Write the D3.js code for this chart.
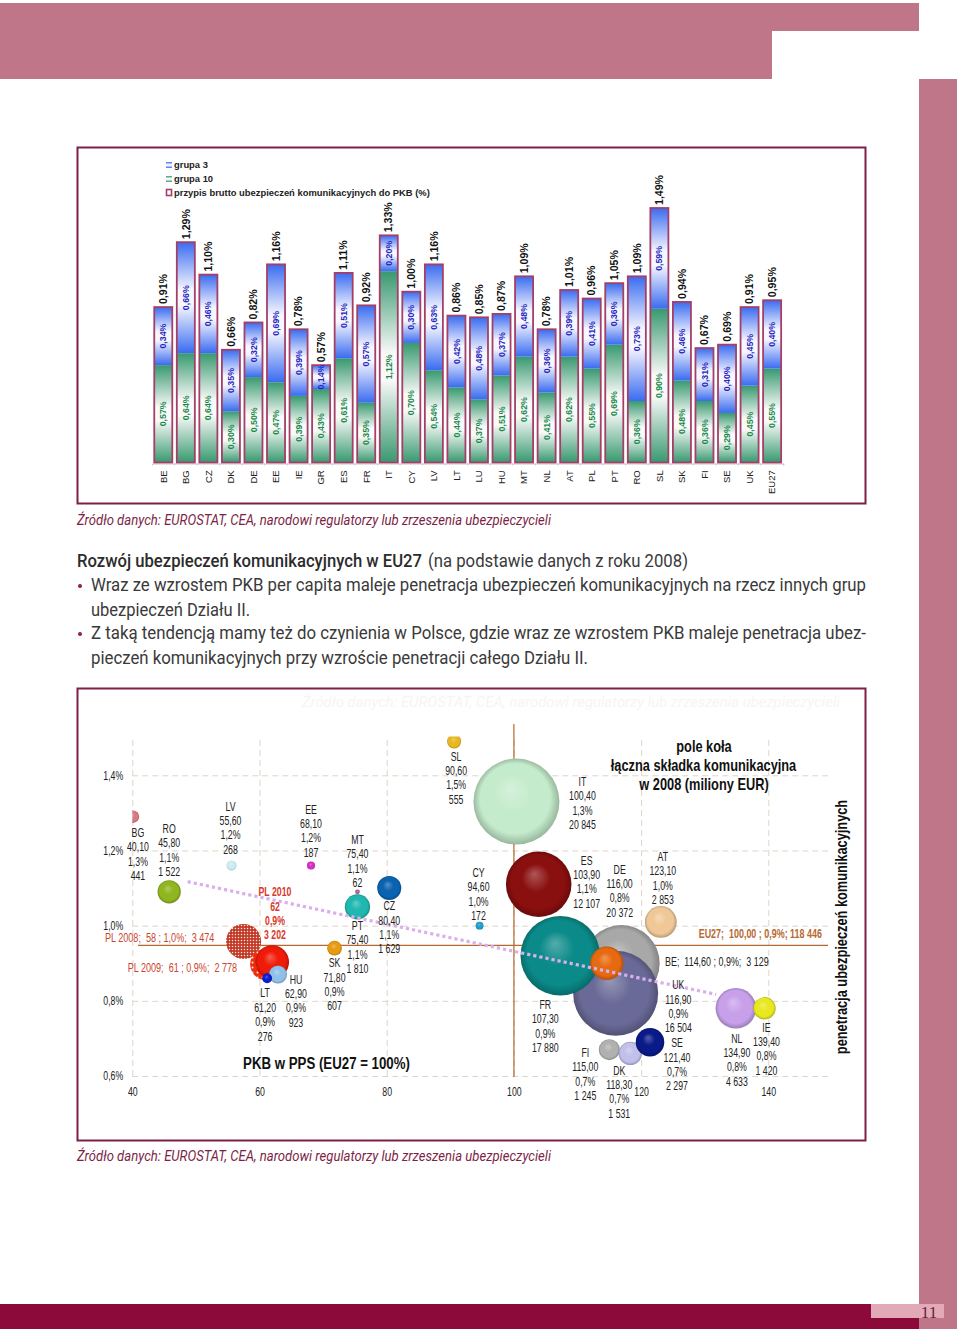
<!DOCTYPE html>
<html lang="pl">
<head>
<meta charset="utf-8">
<title>Ubezpieczenia komunikacyjne</title>
<script src="https://cdn.jsdelivr.net/npm/d3@7/dist/d3.min.js"></script>
<style>
html,body{margin:0;padding:0;background:#fff}
svg{display:block}
text{font-family:"Liberation Sans",Arial,sans-serif;white-space:pre}
.body{font-family:Roboto,sans-serif;fill:#3a3a3a}
</style>
</head>
<body>
<svg id="page" width="960" height="1330"></svg>
<script>
// ---- bar chart data
const barCountries = ["BE","BG","CZ","DK","DE","EE","IE","GR","ES","FR","IT","CY","LV","LT","LU","HU","MT","NL","AT","PL","PT","RO","SL","SK","FI","SE","UK","EU27"];
const group10 = [0.57,0.64,0.64,0.30,0.50,0.47,0.39,0.43,0.61,0.35,1.12,0.70,0.54,0.44,0.37,0.51,0.62,0.41,0.62,0.55,0.69,0.36,0.90,0.48,0.36,0.29,0.45,0.55];
const group3 = [0.34,0.66,0.46,0.35,0.32,0.69,0.39,0.14,0.51,0.57,0.20,0.30,0.63,0.42,0.48,0.37,0.48,0.36,0.39,0.41,0.36,0.73,0.59,0.46,0.31,0.40,0.45,0.40];
const totals = [0.91,1.29,1.10,0.66,0.82,1.16,0.78,0.57,1.11,0.92,1.33,1.00,1.16,0.86,0.85,0.87,1.09,0.78,1.01,0.96,1.05,1.09,1.49,0.94,0.67,0.69,0.91,0.95];
const legendLabels = ["grupa 3","grupa 10","przypis brutto ubezpieczeń komunikacyjnych do PKB (%)"];

// ---- bubble chart data (drawing order: biggest behind)
const bubbleCodes = ["BG","RO","LV","EE","PT","MT","CZ","SL","CY","IT","ES","UK","DE","FR","BE","AT","FI","DK","SE","NL","IE","SK","HU","LT"];
const bubbleGdp = [40.10,45.80,55.60,68.10,75.40,75.40,80.40,90.60,94.60,100.40,103.90,116.90,116.00,107.30,114.60,123.10,115.00,118.30,121.40,134.90,139.40,71.80,62.90,61.20];
const bubblePen = [1.29,1.09,1.16,1.16,1.05,1.09,1.10,1.49,1.00,1.33,1.11,0.90,0.82,0.92,0.90,1.01,0.67,0.66,0.69,0.78,0.78,0.94,0.87,0.86];
const bubblePremium = [441,1522,268,187,1810,62,1629,555,172,20845,12107,16504,20372,17880,3129,2853,1245,1531,2297,4633,1420,607,923,276];
const polandYears = ["PL 2008","PL 2009","PL 2010"];
const polandGdp = [57.5,61,62];
const polandPen = [0.958,0.897,0.903];
const polandPremium = [3474,2778,3202];
const trendGdp = [48.7,131.8];
const trendPen = [1.117,0.817];
const euGdp = 100;
const xTicks = [40,60,80,100,120,140];
const yTicks = [0.6,0.8,1.0,1.2,1.4];

// ---- styling lookups
const bubbleColors = {BG:"#d87880",RO:"#8fb51f",LV:"#c8eef0",EE:"#d82fc8",PT:"#1fb8b0",MT:"#b06090",CZ:"#0a63b0",SL:"#e8b820",CY:"#20a0d0",IT:"#c4ebcb",ES:"#8a0f0f",UK:"#a8a8a8",DE:"#6a6a98",FR:"#0a8a88",BE:"#e86a10",AT:"#f0c898",FI:"#b0b0b0",DK:"#c0c0ea",SE:"#0a1a88",NL:"#c8a0ea",IE:"#e8e820",SK:"#e89a10",HU:"#90c0e8",LT:"#0a20d0"};
const labelOffsets = {BG:[5,16],RO:[0,-63],LV:[-1,-59],EE:[0,-56],MT:[0,-52],SL:[2,15],CY:[-1,-53],IT:[66,-20],ES:[48,-24],DE:[4,-124],AT:[2,-65],CZ:[0,18],PT:[0,19],SK:[0,15],HU:[18,5],LT:[-2,15],FR:[-15,49],FI:[-24,3],DK:[-11,17],SE:[27,1],NL:[1,30],IE:[2,19],UK:[57,22]};

const plLocale = d3.formatLocale({decimal:",",thousands:" ",grouping:[3],currency:["",""]});
const fGdp = plLocale.format(",.2f"), fPrem = plLocale.format(",d"), fPen1 = plLocale.format(".1f"), fPen2 = plLocale.format(".2f");

const svg = d3.select("#page");
const defs = svg.append("defs");
const crimson = "#7d1f47", band = "#be7688";

// ---- page furniture
svg.append("rect").attr("x",0).attr("y",3).attr("width",919).attr("height",28).attr("fill",band);
svg.append("rect").attr("x",0).attr("y",31).attr("width",772).attr("height",48).attr("fill",band);
svg.append("rect").attr("x",919).attr("y",79).attr("width",38).attr("height",1250).attr("fill",band);
svg.append("rect").attr("x",0).attr("y",1304).attr("width",919).attr("height",25).attr("fill","#8b0a3a");
svg.append("rect").attr("x",871).attr("y",1304).attr("width",73).attr("height",14).attr("fill","#e2aab6");
svg.append("text").attr("x",929).attr("y",1318).attr("text-anchor","middle").attr("font-size",17).attr("fill","#6e1a3e").style("font-family","'Liberation Serif',serif").text("11");

svg.append("rect").attr("x",77.5).attr("y",147.5).attr("width",788).attr("height",356).attr("fill","#fff").attr("stroke",crimson).attr("stroke-width",2);
svg.append("rect").attr("x",77.5).attr("y",688.5).attr("width",788).attr("height",452).attr("fill","#fff").attr("stroke",crimson).attr("stroke-width",2);

function fitted(x,y,str,len,size,opts={}){
  const t = svg.append("text").attr("x",x).attr("y",y).attr("class","body").attr("font-size",size)
    .attr("textLength",len).attr("lengthAdjust","spacingAndGlyphs").text(str);
  if(opts.fill) t.style("fill",opts.fill);
  if(opts.weight) t.attr("font-weight",opts.weight);
  if(opts.italic) t.attr("font-style","italic");
  return t;
}
const source = "Źródło danych: EUROSTAT, CEA, narodowi regulatorzy lub zrzeszenia ubezpieczycieli";
fitted(77,525,source,474,14,{fill:"#7d1f47",italic:true});
fitted(77,1161,source,474,14,{fill:"#7d1f47",italic:true});
fitted(302,707,source,538,15,{fill:"#f7f4f5",italic:true});
fitted(77,567,"Rozwój ubezpieczeń komunikacyjnych w EU27",345,18,{weight:500,fill:"#2c2c2c"});
fitted(428,567,"(na podstawie danych z roku 2008)",260,18);
fitted(91,591,"Wraz ze wzrostem PKB per capita maleje penetracja ubezpieczeń komunikacyjnych na rzecz innych grup",775,18);
fitted(91,615.5,"ubezpieczeń Działu II.",159,18);
fitted(91,639,"Z taką tendencją mamy też do czynienia w Polsce, gdzie wraz ze wzrostem PKB maleje penetracja ubez-",775,18);
fitted(91,663.5,"pieczeń komunikacyjnych przy wzroście penetracji całego Działu II.",497,18);
svg.selectAll("circle.bullet").data([586,634]).join("circle").attr("class","bullet").attr("cx",80).attr("cy",d=>d).attr("r",2).attr("fill","#8b1f4a");

// ---- bar chart
function vGrad(id,edge,mid){
  const g = defs.append("linearGradient").attr("id",id).attr("x1",0).attr("x2",0).attr("y1",0).attr("y2",1);
  g.append("stop").attr("offset","0").attr("stop-color",edge);
  g.append("stop").attr("offset","0.43").attr("stop-color",mid);
  g.append("stop").attr("offset","0.57").attr("stop-color",mid);
  g.append("stop").attr("offset","1").attr("stop-color",edge);
}
vGrad("gBlue","#3a6cf0","#f6f6ff");
vGrad("gGreen","#37996f","#f8f9f8");

const bx = d3.scaleBand().domain(barCountries).range([152,783.4]).paddingInner(0.2).paddingOuter(0.1);
const by = d3.scaleLinear().domain([0,1.49]).range([462.5,208]);
const barsG = svg.append("g");
const rows = barCountries.map((c,i)=>({c,g10:group10[i],g3:group3[i],t:totals[i]}));

barsG.append("g").attr("transform","translate(0,463.5)")
  .call(d3.axisBottom(bx).tickSize(2).tickPadding(0))
  .call(a=>{
    a.select(".domain").attr("stroke","#c8c8c8");
    a.selectAll("line").attr("stroke","#c8c8c8").attr("transform",`translate(${(bx.step())/2},0)`);
    a.selectAll("text").attr("fill","#222").attr("font-size",9.5)
     .attr("text-anchor","end").attr("dy","0.35em").attr("y",0)
     .attr("transform","translate(0,6.8) rotate(-90)");
  });

barsG.selectAll("rect.g10").data(rows).join("rect").attr("class","g10")
  .attr("x",d=>bx(d.c)).attr("width",bx.bandwidth())
  .attr("y",d=>by(d.g10)).attr("height",d=>by(0)-by(d.g10)).attr("fill","url(#gGreen)");
barsG.selectAll("rect.g3").data(rows).join("rect").attr("class","g3")
  .attr("x",d=>bx(d.c)).attr("width",bx.bandwidth())
  .attr("y",d=>by(d.t)).attr("height",d=>by(d.g10)-by(d.t)).attr("fill","url(#gBlue)");
barsG.selectAll("rect.tot").data(rows).join("rect").attr("class","tot")
  .attr("x",d=>bx(d.c)).attr("width",bx.bandwidth())
  .attr("y",d=>by(d.t)).attr("height",d=>by(0)-by(d.t)).attr("fill","none").attr("stroke","#a53f68").attr("stroke-width",1.8);

function vText(cls,yFn,str,fill,size,anchor){
  barsG.selectAll("text."+cls).data(rows).join("text").attr("class",cls)
    .attr("transform",d=>`translate(${bx(d.c)+bx.bandwidth()/2},${yFn(d)}) rotate(-90)`)
    .attr("text-anchor",anchor).attr("dy","0.35em").attr("font-size",size).attr("font-weight","bold")
    .attr("fill",fill).text(d=>fPen2(str(d))+"%");
}
vText("lg",d=>(by(0)+by(d.g10))/2,d=>d.g10,"#158a4a",8.8,"middle");
vText("lb",d=>(by(d.g10)+by(d.t))/2,d=>d.g3,"#2424c0",8.8,"middle");
vText("lt",d=>by(d.t)-3,d=>d.t,"#111",10.6,"start");

const lg = svg.append("g");
const legendY = d3.scalePoint().domain(legendLabels).range([165,192.5]);
lg.selectAll("text").data(legendLabels).join("text").attr("x",174).attr("y",d=>legendY(d)).attr("dy","0.35em")
  .attr("font-size",9.4).attr("font-weight","bold").attr("fill","#222").text(d=>d);
lg.append("rect").attr("x",166).attr("y",162).attr("width",6).attr("height",6).attr("fill","url(#gBlue)");
lg.append("rect").attr("x",166).attr("y",176).attr("width",6).attr("height",6).attr("fill","url(#gGreen)");
lg.append("rect").attr("x",166.5).attr("y",189.5).attr("width",5).attr("height",6).attr("fill","#fff").attr("stroke","#a53f68").attr("stroke-width",1.6);

// ---- bubble chart
const px = d3.scaleLinear().domain([40,140]).range([132.3,768.3]);
const py = d3.scaleLinear().domain([0.6,1.4]).range([1076,775.3]);
const pr = d3.scaleSqrt().domain([0,20845]).range([0,43]);
const plot = svg.append("g");
const grid = "#dcd6c8";

const NARROW = 0.73;
function narrow(g,x,y,str,o={}){
  return g.append("text").attr("transform",`translate(${x},${y}) scale(${o.sx||NARROW},1)`)
    .attr("text-anchor",o.anchor||"middle").attr("dy","0.35em").attr("font-size",o.size||12)
    .attr("font-weight",o.weight||"normal").attr("fill",o.fill||"#222").text(str);
}

plot.append("g").attr("transform","translate(132.3,0)")
  .call(d3.axisLeft(py).tickValues(yTicks).tickSize(-695.7).tickFormat(d=>fPen1(d)+"%"))
  .call(a=>{
    a.select(".domain").remove();
    a.selectAll("line").attr("stroke",grid).attr("stroke-dasharray","6,4");
    a.selectAll("text").attr("x",null).attr("text-anchor","middle").attr("font-size",12).attr("fill","#222")
      .attr("transform",`translate(-19,0) scale(${NARROW},1)`);
  });
plot.append("g").attr("transform","translate(0,1076)")
  .call(d3.axisBottom(px).tickValues(xTicks).tickSize(-339).tickFormat(d=>d))
  .call(a=>{
    a.select(".domain").remove();
    a.selectAll("line").attr("stroke",grid).attr("stroke-dasharray","6,4");
    a.selectAll("text").attr("y",null).attr("dy","0.35em").attr("font-size",12).attr("fill","#222")
      .attr("transform",`translate(0,16) scale(${NARROW},1)`);
  });

// reference lines for EU27
const refCol = "#b7682f";
const refY = 945.3;
plot.append("line").attr("x1",138).attr("x2",828).attr("y1",refY).attr("y2",refY).attr("stroke",refCol).attr("stroke-width",1.2);
plot.append("line").attr("x1",px(euGdp)).attr("x2",px(euGdp)).attr("y1",724).attr("y2",1077).attr("stroke",refCol).attr("stroke-width",1.2);

defs.append("clipPath").attr("id","plotClip").append("rect").attr("x",132.3).attr("y",736.5).attr("width",710).attr("height",345);

const bubbles = bubbleCodes.map((code,i)=>({code,g:bubbleGdp[i],p:bubblePen[i],v:bubblePremium[i],col:bubbleColors[code]}));
function sphere(id,col){
  const c = d3.color(col);
  const gr = defs.append("radialGradient").attr("id",id).attr("cx","0.5").attr("cy","0.5").attr("r","0.52").attr("fx","0.43").attr("fy","0.34");
  gr.append("stop").attr("offset","0").attr("stop-color",d3.interpolateRgb(col,"#fff")(0.3));
  gr.append("stop").attr("offset","0.42").attr("stop-color",col);
  gr.append("stop").attr("offset","0.78").attr("stop-color",col);
  gr.append("stop").attr("offset","1").attr("stop-color",c.darker(0.85).formatHex());
}
bubbleCodes.forEach(code=>sphere("sph"+code,bubbleColors[code]));
sphere("sphPL","#f01a08");

const pat1 = defs.append("pattern").attr("id","pl08").attr("width",3).attr("height",3).attr("patternUnits","userSpaceOnUse");
pat1.append("rect").attr("width",3).attr("height",3).attr("fill","#c23a28");
pat1.append("circle").attr("cx",1.5).attr("cy",1.5).attr("r",0.75).attr("fill","#fbe8e0");
const pat2 = defs.append("pattern").attr("id","pl09").attr("width",5).attr("height",5).attr("patternUnits","userSpaceOnUse");
pat2.append("rect").attr("width",5).attr("height",5).attr("fill","#ee2c12");
pat2.append("circle").attr("cx",2.5).attr("cy",2.5).attr("r",1).attr("fill","#ffe8c8");

const bub = plot.append("g").attr("clip-path","url(#plotClip)");
const drawBubble = d => bub.append("circle").attr("cx",px(d.g)).attr("cy",py(d.p)).attr("r",pr(d.v)).attr("fill",`url(#sph${d.code})`);
bubbles.filter(d=>!["HU","LT"].includes(d.code)).forEach(drawBubble);
const plFills = ["url(#pl08)","url(#pl09)","url(#sphPL)"];
polandYears.forEach((n,i)=>{
  bub.append("circle").attr("cx",px(polandGdp[i])).attr("cy",py(polandPen[i])).attr("r",pr(polandPremium[i])).attr("fill",plFills[i]);
});
bubbles.filter(d=>["HU","LT"].includes(d.code)).forEach(drawBubble);

// trend
plot.append("line").attr("x1",px(trendGdp[0])).attr("y1",py(trendPen[0])).attr("x2",px(trendGdp[1])).attr("y2",py(trendPen[1]))
  .attr("stroke","#d9b0ec").attr("stroke-width",3.2).attr("stroke-dasharray","3.2,3");

// labels
const labels = plot.append("g");
bubbles.filter(d=>labelOffsets[d.code]).forEach(d=>{
  const [dx,dy] = labelOffsets[d.code];
  [d.code,fGdp(d.g),fPen1(d.p)+"%",fPrem(d.v)].forEach((s,k)=>narrow(labels,px(d.g)+dx,py(d.p)+dy+k*14.35,s));
});
narrow(labels,665,961.3,"BE;  114,60 ; 0,9%;  3 129",{anchor:"start",sx:0.745});
narrow(labels,105,938,"PL 2008;  58 ; 1,0%;  3 474",{anchor:"start",fill:"#c9452f",sx:0.755});
narrow(labels,127.7,967.3,"PL 2009;  61 ; 0,9%;  2 778",{anchor:"start",fill:"#c9452f",sx:0.755});
["PL 2010","62","0,9%","3 202"].forEach((s,k)=>narrow(labels,275,892+k*14.35,s,{weight:"bold",fill:"#d9382a"}));
narrow(labels,698.7,933.7,"EU27;  100,00 ; 0,9%; 118 446",{anchor:"start",weight:"bold",fill:"#b7682f",sx:0.745});
narrow(labels,326.5,1062.7,"PKB w PPS (EU27 = 100%)",{weight:"bold",fill:"#111",size:17,sx:0.78});
narrow(labels,704,746,"pole koła",{weight:"bold",fill:"#111",size:16,sx:0.8});
narrow(labels,703.5,765,"łączna składka komunikacyjna",{weight:"bold",fill:"#111",size:16,sx:0.8});
narrow(labels,704,784,"w 2008 (miliony EUR)",{weight:"bold",fill:"#111",size:16,sx:0.8});
labels.append("text").attr("transform","translate(841.5,927) rotate(-90) scale(0.8,1)").attr("text-anchor","middle").attr("dy","0.35em")
  .attr("font-size",16).attr("font-weight","bold").attr("fill","#111").text("penetracja ubezpieczeń komunikacyjnych");
</script>
</body>
</html>
